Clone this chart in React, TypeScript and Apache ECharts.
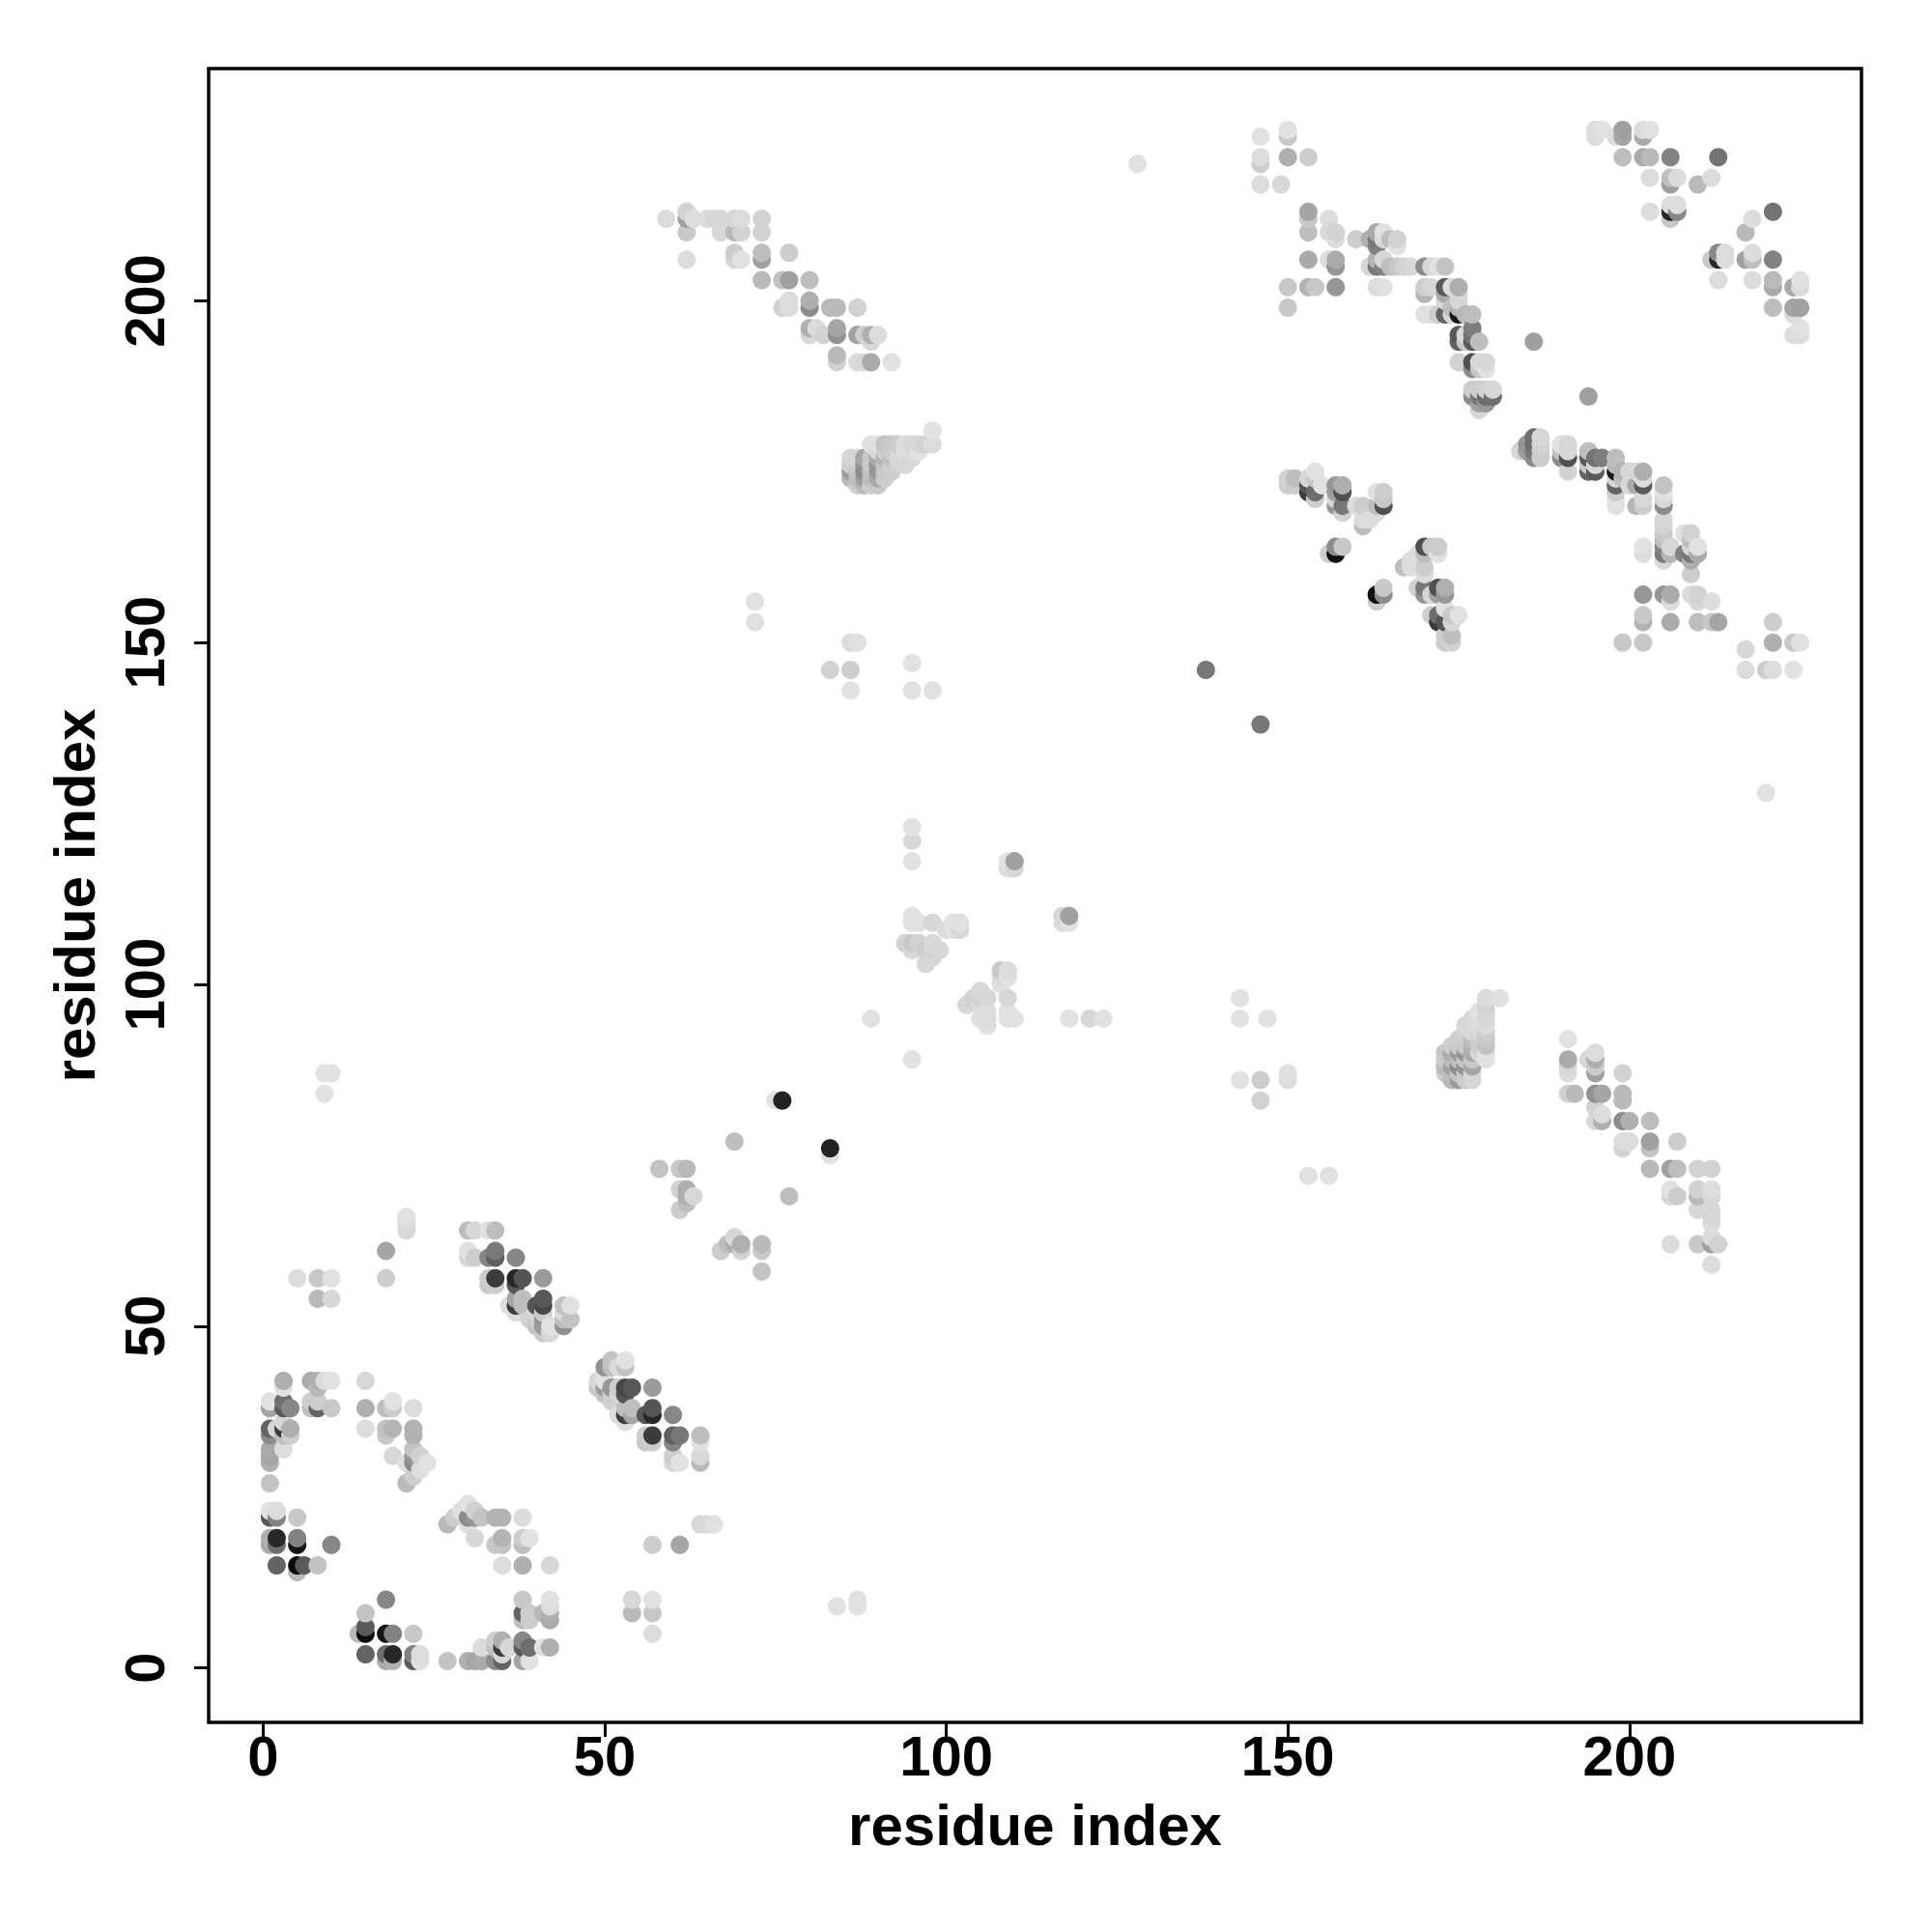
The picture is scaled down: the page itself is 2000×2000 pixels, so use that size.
import React, { useEffect, useRef } from "react";
import * as echarts from "echarts";

// Contacts are [i, j, grey level]; the map is symmetric, so each is drawn at (i,j) and (j,i).
const nTermA = [[5,14,185],[2,15,100],[5,15,10],[6,15,90],[8,15,195],[1,18,170],[2,18,110],[5,18,20],[10,18,135],[1,19,175],[2,19,40],[5,19,130],[1,22,90],[2,22,130],[5,22,200],[1,23,225],[2,23,220]];
const nTermB = [[1,27,195],[1,30,175],[1,31,165],[1,32,170],[3,32,220],[1,34,140],[3,34,190],[4,34,205],[1,35,100],[2,35,215],[3,35,60],[4,35,175],[3,36,215],[1,38,165],[3,38,90],[4,38,135],[7,38,190],[8,38,100],[10,38,200],[1,39,225],[3,39,110],[7,39,205],[8,39,205],[3,41,225],[8,41,185],[3,42,175],[7,42,170],[8,42,175],[9,42,220],[10,42,225]];
const nTermC = [[15,42,215],[15,38,175],[15,35,220],[18,38,190],[19,39,225],[19,38,205],[22,38,220],[18,35,195],[18,34,200],[19,35,180],[22,35,178],[22,34,178],[19,31,215],[22,32,195],[22,31,150],[22,30,140],[21,30,222],[23,31,208],[24,30,225],[23,29,222],[22,28,205],[21,27,185]];
const nTermD = [[5,57,220],[8,57,200],[10,57,225],[8,54,185],[10,54,215],[18,61,165],[18,57,205],[21,64,215],[21,65,218],[21,66,225],[9,84,225],[9,87,225],[10,87,225]];
const strandE = [[30,64,188],[31,64,215],[33,64,225],[34,64,190],[30,61,225],[34,61,120],[30,60,215],[31,60,205],[33,60,133],[34,60,95],[37,60,135],[33,57,205],[34,57,60],[37,57,38],[38,57,85],[41,57,155],[33,56,200],[34,56,205],[37,56,85],[37,54,165],[38,54,190],[41,54,88],[36,53,222],[37,53,60],[38,53,190],[40,53,85],[41,53,72],[44,53,195],[45,53,225],[37,52,220],[40,52,215],[41,52,205],[44,52,220],[39,51,210],[40,51,205],[41,51,150],[44,51,190],[45,51,195],[40,50,195],[41,50,155],[42,50,225],[43,50,225],[44,50,145],[41,49,200],[42,49,215]];
const midRange = [[75,83,225],[76,83,35],[69,77,190],[58,73,195],[61,73,200],[62,73,185],[61,70,210],[62,70,175],[62,69,175],[63,69,215],[62,68,190],[61,67,205],[72,153,225],[72,156,225],[83,146,210],[86,146,205],[86,143,225],[86,150,220],[87,150,225],[95,147,225],[95,143,225],[98,143,225],[128,220,225],[138,146,120],[186,194,160]];
const loopF = [[95,123,225],[95,121,215],[95,118,225],[110,118,160],[109,118,225],[109,117,220],[110,117,215],[95,110,225],[95,109,225],[96,109,225],[98,109,215],[100,108,225],[101,109,225],[102,109,220],[102,108,200],[101,108,220],[94,106,225],[95,106,222],[96,106,222],[98,106,215],[95,105,225],[97,105,220],[98,105,210],[99,105,215],[98,104,210],[97,103,215],[108,102,215],[109,102,225],[108,101,225],[109,101,225],[108,100,220],[89,95,225],[104,98,215],[105,99,215],[106,98,215],[103,97,215],[105,97,205],[106,96,210],[105,95,215],[106,95,200],[106,94,210]];
const strandG = [[59,212,220],[62,213,210],[62,212,160],[63,212,220],[65,212,220],[66,212,215],[67,212,215],[69,212,215],[70,212,220],[73,212,210],[62,210,200],[67,210,215],[69,210,185],[70,210,210],[73,210,210],[69,207,205],[73,207,190],[77,207,205],[62,206,220],[69,206,215],[70,206,225],[73,206,160],[73,203,185],[76,203,195],[77,203,160],[80,203,190],[77,200,220],[80,200,175],[76,199,210],[77,199,220],[80,199,140],[83,199,185],[84,199,185],[87,199,210],[80,196,175],[81,196,220],[84,196,165],[80,195,215],[82,195,210],[84,195,145],[87,195,160],[88,195,205],[89,195,175],[90,195,220],[89,194,215],[84,192,185],[84,191,210],[87,191,220],[88,191,215],[89,191,170],[92,191,225]];
const blockH = [[98,181,225],[89,179,225],[90,179,225],[91,179,195],[92,179,200],[93,179,205],[94,179,220],[95,179,215],[96,179,215],[97,179,210],[98,179,220],[90,178,215],[91,178,205],[92,178,205],[93,178,215],[94,178,220],[95,178,220],[96,178,225],[86,177,215],[87,177,215],[88,177,165],[89,177,200],[90,177,170],[91,177,180],[92,177,190],[93,177,215],[94,177,215],[95,177,215],[86,176,205],[87,176,205],[88,176,145],[89,176,200],[90,176,150],[91,176,200],[92,176,205],[93,176,210],[94,176,215],[86,175,155],[87,175,195],[88,175,140],[89,175,190],[90,175,155],[91,175,200],[92,175,205],[86,174,185],[87,174,190],[88,174,160],[89,174,190],[90,174,170],[91,174,205],[87,173,205],[88,173,185],[89,173,205],[90,173,200]];
const cTermI = [[146,224,225],[150,225,225],[150,224,200],[146,221,220],[146,220,205],[150,221,175],[153,221,205],[146,217,220],[149,217,215],[153,213,165],[153,212,200],[156,212,220],[153,210,190],[156,210,215],[157,210,210],[157,209,220],[160,209,205],[162,209,175],[163,210,170],[163,209,120],[164,210,225],[164,209,215],[165,209,190],[166,209,210],[166,208,225],[163,208,130],[153,206,170],[156,206,220],[157,206,170],[157,205,150],[162,205,215],[163,206,180],[163,205,120],[164,206,215],[164,205,130],[165,205,190],[166,205,200],[167,205,210],[168,205,215],[170,205,140],[171,205,215],[172,205,225],[173,205,195],[150,202,200],[153,202,180],[154,202,200],[157,202,150],[163,202,220],[164,202,225],[170,202,205],[171,202,215],[173,202,90],[174,202,220],[175,202,175],[170,201,180],[173,201,170],[175,201,215],[173,200,215],[175,200,215],[150,199,200],[170,198,225],[171,198,225],[172,198,205],[173,198,100],[174,198,215],[175,198,25],[176,198,185],[177,198,190],[174,199,190],[175,199,180],[177,196,125],[175,195,90],[176,195,215],[177,195,115],[175,194,100],[176,194,200],[177,194,90],[178,194,190],[175,191,210],[177,191,80],[178,191,215],[179,191,215],[177,190,140],[178,190,195],[179,190,225],[177,187,205],[178,187,205],[179,187,210],[180,187,215],[177,186,140],[178,186,120],[179,186,110],[180,186,110],[178,185,160],[179,185,150],[178,184,215]];
const cTermJ = [[150,174,210],[150,173,205],[151,174,190],[151,173,205],[153,174,215],[153,173,85],[153,172,60],[154,175,225],[154,174,200],[154,172,110],[154,171,205],[155,173,225],[157,173,150],[158,173,175],[157,172,160],[158,172,80],[157,171,215],[158,170,120],[157,170,150],[158,169,210],[160,170,220],[161,170,205],[161,168,220],[162,168,220],[161,167,190],[163,170,190],[163,169,220],[163,172,225],[164,172,205],[164,171,200],[164,170,80],[156,163,205],[157,163,15],[157,164,140],[158,164,200]];
const cTermK = [[195,225,220],[196,225,225],[195,224,220],[198,224,220],[199,225,160],[199,224,165],[202,225,220],[203,225,225],[202,224,170],[199,221,190],[202,221,170],[203,221,185],[206,221,130],[213,221,115],[203,218,220],[206,218,190],[207,218,220],[212,218,220],[206,217,160],[210,217,185],[206,214,220],[207,214,220],[203,213,220],[206,213,40],[207,213,135],[206,212,200]];
const tickValues = [0, 50, 100, 150, 200];
const axisTitle = "residue index";
const FONT = "Liberation Sans";

const contacts = [...nTermA, ...nTermB, ...nTermC, ...nTermD, ...strandE, ...midRange, ...loopF, ...strandG, ...blockH, ...cTermI, ...cTermJ, ...cTermK];

// Each contact is plotted at (i,j) and (j,i); the marks stack in order of x, then y.
const points = [...contacts, ...contacts.map((c) => [c[1], c[0], c[2]])]
  .sort((p, q) => p[0] - q[0] || p[1] - q[1])
  .map((c) => ({ value: [c[0], c[1]], itemStyle: { color: `rgb(${c[2]},${c[2]},${c[2]})`, opacity: 1 } }));

const axisBase = {
  type: "value",
  min: -7.96,
  max: 233.96,
  splitLine: { show: false },
  axisLine: { show: false, onZero: false },
  axisTick: { show: true, length: 15, customValues: tickValues, lineStyle: { color: "#000", width: 3 } },
  axisLabel: { customValues: tickValues, color: "#000", fontFamily: FONT, fontWeight: "bold", fontSize: 58, hideOverlap: false, showMinLabel: true, showMaxLabel: true },
  name: axisTitle,
  nameLocation: "middle",
  nameTextStyle: { color: "#000", fontFamily: FONT, fontWeight: "bold", fontSize: 60 },
};

export default function App() {
  const ref = useRef<HTMLDivElement>(null);
  useEffect(() => {
    const chart = echarts.init(ref.current!, null, { renderer: "svg" });
    chart.setOption({
      animation: false,
      backgroundColor: "#fff",
      grid: { left: 216, right: 73, top: 71, bottom: 217, show: true, borderColor: "#000", borderWidth: 3.5, backgroundColor: "transparent" },
      xAxis: { ...axisBase, nameGap: 76, axisLabel: { ...axisBase.axisLabel, margin: 5 } },
      yAxis: { ...axisBase, nameGap: 109, axisLabel: { ...axisBase.axisLabel, rotate: 90, margin: 38 } },
      series: [{ type: "scatter", symbol: "circle", symbolSize: 19, data: points, silent: true, clip: true }],
    });
    return () => chart.dispose();
  }, []);
  return <div ref={ref} style={{ position: "absolute", left: 0, top: 0, width: 2000, height: 2000 }} />;
}
